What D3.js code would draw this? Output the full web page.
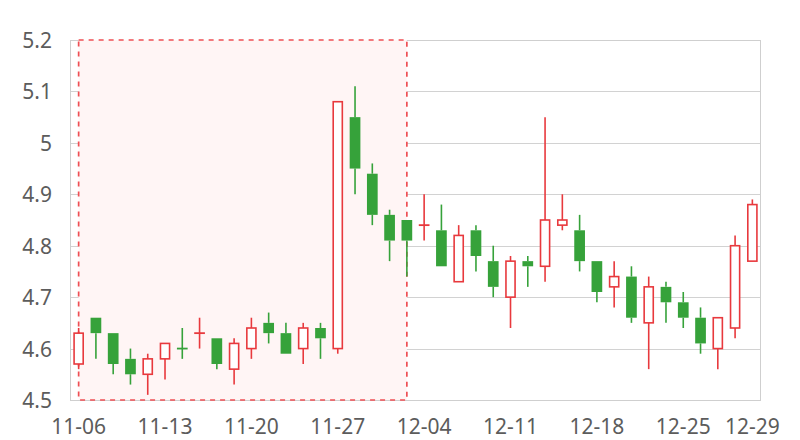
<!DOCTYPE html>
<html>
<head>
<meta charset="utf-8">
<script src="https://cdn.jsdelivr.net/npm/d3@7"></script>
<style>
  html, body { margin: 0; padding: 0; background: #fff; }
  svg { display: block; }
  text { font-family: "Noto Sans", "DejaVu Sans", sans-serif; }
</style>
</head>
<body>
<div id="chart"></div>
<script>
const dates = ["11-06","11-07","11-08","11-09","11-10","11-13","11-14","11-15","11-16","11-17",
  "11-20","11-21","11-22","11-23","11-24","11-27","11-28","11-29","11-30","12-01",
  "12-04","12-05","12-06","12-07","12-08","12-11","12-12","12-13","12-14","12-15",
  "12-18","12-19","12-20","12-21","12-22","12-25","12-26","12-27","12-28","12-29"];
const opens  = [4.57,4.66,4.63,4.58,4.55,4.58,4.60,4.63,4.62,4.56,
  4.60,4.65,4.63,4.60,4.64,4.60,5.05,4.94,4.86,4.85,
  4.84,4.83,4.73,4.83,4.77,4.70,4.77,4.76,4.84,4.83,
  4.77,4.72,4.74,4.65,4.72,4.69,4.66,4.60,4.64,4.77];
const closes = [4.63,4.63,4.57,4.55,4.58,4.61,4.60,4.63,4.57,4.61,
  4.64,4.63,4.59,4.64,4.62,5.08,4.95,4.86,4.81,4.81,
  4.84,4.76,4.82,4.78,4.72,4.77,4.76,4.85,4.85,4.77,
  4.71,4.74,4.66,4.72,4.69,4.66,4.61,4.66,4.80,4.88];
const highs  = [4.64,4.66,4.63,4.60,4.59,4.61,4.64,4.66,4.62,4.62,
  4.66,4.67,4.65,4.65,4.65,5.08,5.11,4.96,4.87,4.85,
  4.90,4.88,4.84,4.84,4.80,4.78,4.78,5.05,4.90,4.86,
  4.77,4.77,4.76,4.74,4.73,4.71,4.68,4.66,4.82,4.89];
const lows   = [4.56,4.58,4.55,4.53,4.51,4.54,4.58,4.60,4.56,4.53,
  4.58,4.61,4.59,4.57,4.58,4.59,4.90,4.84,4.77,4.74,
  4.81,4.76,4.73,4.75,4.70,4.64,4.72,4.73,4.83,4.75,
  4.69,4.68,4.65,4.56,4.65,4.64,4.59,4.56,4.62,4.77];
const yTicks = [4.5,4.6,4.7,4.8,4.9,5,5.1,5.2];
const xTickLabels = ["11-06","11-13","11-20","11-27","12-04","12-11","12-18","12-25","12-29"];
const highlightRange = ["11-06","12-01"];

const W = 800, H = 440;
const mLeft = 70, mRight = 761, mTop = 40, mBottom = 400;
const upColor = "#e8393d", downColor = "#36a23a";

const svg = d3.select("#chart").append("svg").attr("width", W).attr("height", H);

const x = d3.scaleBand().domain(dates).range([mLeft, mRight]).padding(0);
const y = d3.scaleLinear().domain([4.5, 5.2]).range([mBottom, mTop]);

// grid
svg.append("g").selectAll("line").data(yTicks).join("line")
  .attr("x1", mLeft).attr("x2", mRight)
  .attr("y1", d => Math.round(y(d)) + 0.5).attr("y2", d => Math.round(y(d)) + 0.5)
  .attr("stroke", "#d2d2d2").attr("stroke-width", 1);
// frame
svg.append("rect").attr("x", mLeft + 0.5).attr("y", mTop + 0.5)
  .attr("width", mRight - mLeft - 1).attr("height", mBottom - mTop)
  .attr("fill", "none").attr("stroke", "#cfcfcf").attr("stroke-width", 1);

// highlight area
const cx = d => x(d) + x.bandwidth() / 2;
svg.append("rect")
  .attr("x", cx(highlightRange[0])).attr("y", y(5.2))
  .attr("width", cx(highlightRange[1]) - cx(highlightRange[0]))
  .attr("height", y(4.5) - y(5.2))
  .attr("fill", "#fff5f5")
  .attr("stroke", "#ef4f54").attr("stroke-width", 1.7)
  .attr("stroke-dasharray", "5,5");

// y labels
svg.append("g").selectAll("text").data(yTicks).join("text")
  .attr("x", 52).attr("y", d => y(d))
  .attr("text-anchor", "end").attr("dominant-baseline", "central")
  .attr("font-size", 21).attr("fill", "#5c5c5c")
  .text(d => d3.format("~g")(d));

// x labels
svg.append("g").selectAll("text").data(xTickLabels).join("text")
  .attr("x", d => cx(d)).attr("y", 426)
  .attr("text-anchor", "middle").attr("dominant-baseline", "central")
  .attr("font-size", 21).attr("fill", "#5c5c5c")
  .text(d => d);

// candles
const data = dates.map((d, i) => ({date: d, o: opens[i], c: closes[i], h: highs[i], l: lows[i], i}));
const bw = x.bandwidth() * 0.62;
function isUp(d) {
  if (d.c > d.o) return true;
  if (d.c < d.o) return false;
  return d.i > 0 ? d.c >= closes[d.i - 1] : true;
}
const g = svg.append("g");
data.forEach(d => {
  const up = isUp(d);
  const col = up ? upColor : downColor;
  const xc = cx(d.date);
  const bt = y(Math.max(d.o, d.c)), bb = y(Math.min(d.o, d.c));
  g.append("line").attr("x1", xc).attr("x2", xc).attr("y1", y(d.h)).attr("y2", bt)
    .attr("stroke", col).attr("stroke-width", 1.6);
  g.append("line").attr("x1", xc).attr("x2", xc).attr("y1", bb).attr("y2", y(d.l))
    .attr("stroke", col).attr("stroke-width", 1.6);
  if (bb - bt < 1) {
    g.append("line").attr("x1", xc - bw / 2).attr("x2", xc + bw / 2)
      .attr("y1", bt).attr("y2", bt).attr("stroke", col).attr("stroke-width", 1.8);
  } else if (up) {
    g.append("rect").attr("x", xc - bw / 2 + 0.8).attr("y", bt)
      .attr("width", bw - 1.6).attr("height", bb - bt)
      .attr("fill", "#fff").attr("stroke", col).attr("stroke-width", 1.6);
  } else {
    g.append("rect").attr("x", xc - bw / 2).attr("y", bt)
      .attr("width", bw).attr("height", bb - bt)
      .attr("fill", col).attr("stroke", "none");
  }
});
</script>
</body>
</html>
